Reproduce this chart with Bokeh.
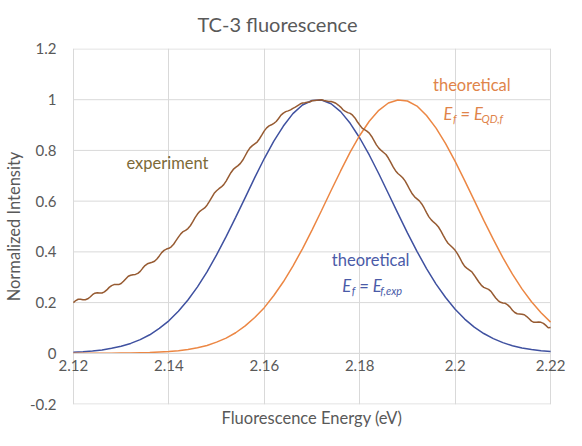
from bokeh.plotting import figure
from bokeh.models import Range1d, FixedTicker, LinearAxis, CustomJSTickFormatter, Label
from bokeh.embed import file_html
from bokeh.resources import INLINE

# ---------------- data ----------------
THEORY_START = 2.12
THEORY_STEP = 0.002
EXP_START = 2.12
EXP_STEP = 0.0005

# theoretical, E_f = E_f,exp  (blue)
theory_fexp = [0.004, 0.006, 0.009, 0.013, 0.020, 0.028, 0.039, 0.054, 0.073, 0.098,
               0.128, 0.166, 0.210, 0.262, 0.321, 0.388, 0.460, 0.536, 0.614, 0.693,
               0.768, 0.837, 0.896, 0.945, 0.979, 0.997, 0.999, 0.984, 0.953, 0.907,
               0.849, 0.782, 0.708, 0.630, 0.552, 0.475, 0.402, 0.334, 0.273, 0.220,
               0.174, 0.135, 0.103, 0.078, 0.058, 0.042, 0.030, 0.021, 0.015, 0.010,
               0.007]

# theoretical, E_f = E_QD,f  (orange)
theory_qd = [0.0001, 0.0001, 0.0002, 0.0003, 0.0004, 0.001, 0.001, 0.002, 0.003, 0.005,
             0.007, 0.010, 0.015, 0.022, 0.031, 0.044, 0.060, 0.081, 0.108, 0.141,
             0.180, 0.228, 0.282, 0.344, 0.412, 0.486, 0.563, 0.642, 0.719, 0.793,
             0.859, 0.915, 0.958, 0.987, 0.999, 0.995, 0.975, 0.938, 0.888, 0.827,
             0.757, 0.681, 0.603, 0.524, 0.449, 0.377, 0.312, 0.254, 0.203, 0.160,
             0.123]

# experiment (brown)
experiment = [
    0.200, 0.208, 0.213, 0.213, 0.211, 0.211, 0.215, 0.222, 0.231, 0.237,
    0.239, 0.238, 0.238, 0.242, 0.250, 0.260, 0.267, 0.271, 0.271, 0.271,
    0.275, 0.284, 0.294, 0.304, 0.308, 0.310, 0.311, 0.315, 0.323, 0.335,
    0.346, 0.353, 0.356, 0.359, 0.363, 0.372, 0.384, 0.397, 0.406, 0.411,
    0.414, 0.420, 0.430, 0.444, 0.458, 0.471, 0.480, 0.485, 0.492, 0.503,
    0.518, 0.535, 0.549, 0.560, 0.567, 0.573, 0.584, 0.599, 0.615, 0.631,
    0.641, 0.649, 0.656, 0.665, 0.679, 0.696, 0.712, 0.725, 0.733, 0.740,
    0.749, 0.762, 0.779, 0.796, 0.810, 0.819, 0.826, 0.833, 0.846, 0.861,
    0.877, 0.889, 0.897, 0.901, 0.907, 0.914, 0.926, 0.939, 0.947, 0.953,
    0.956, 0.960, 0.966, 0.971, 0.977, 0.983, 0.987, 0.988, 0.990, 0.991,
    0.996, 0.997, 0.998, 0.999, 1.000, 0.997, 0.995, 0.993, 0.993, 0.990,
    0.986, 0.979, 0.971, 0.960, 0.954, 0.949, 0.946, 0.939, 0.928, 0.913,
    0.900, 0.888, 0.882, 0.876, 0.868, 0.855, 0.839, 0.822, 0.809, 0.800,
    0.792, 0.784, 0.770, 0.753, 0.735, 0.720, 0.709, 0.701, 0.692, 0.680,
    0.663, 0.645, 0.629, 0.617, 0.609, 0.601, 0.589, 0.573, 0.555, 0.538,
    0.526, 0.517, 0.509, 0.498, 0.483, 0.465, 0.448, 0.434, 0.425, 0.416,
    0.406, 0.392, 0.375, 0.357, 0.343, 0.335, 0.328, 0.321, 0.308, 0.294,
    0.280, 0.268, 0.260, 0.256, 0.252, 0.244, 0.231, 0.218, 0.208, 0.201,
    0.198, 0.197, 0.191, 0.182, 0.170, 0.161, 0.156, 0.155, 0.154, 0.152,
    0.145, 0.136, 0.127, 0.122, 0.122, 0.123, 0.122, 0.118, 0.110, 0.101,
    0.102]

x_ticks = [2.12, 2.14, 2.16, 2.18, 2.20, 2.22]
y_ticks = [-0.2, 0.0, 0.2, 0.4, 0.6, 0.8, 1.0, 1.2]

energy_theory = [round(THEORY_START + THEORY_STEP * i, 4) for i in range(len(theory_fexp))]
energy_exp = [round(EXP_START + EXP_STEP * i, 4) for i in range(len(experiment))]

# ---------------- styling ----------------
FONT = "Lato"
GREY_TXT = "#595959"
GRID = "#D9D9D9"
C_BLUE = "#3F51A0"
C_ORANGE = "#EC8744"
C_BROWN = "#975B32"
C_EXP_TXT = "#7D6A38"
C_ORANGE_TXT = "#E0844A"
C_BLUE_TXT = "#4A5BA8"

# frame a little wider than the data area so the end tick labels are not cut
p = figure(width=566, height=430,
           x_range=Range1d(2.1166667, 2.2233333), y_range=Range1d(-0.2019, 1.2019),
           output_backend="svg", toolbar_location=None,
           min_border_left=54, min_border_right=0,
           min_border_top=46, min_border_bottom=23)
p.background_fill_color = "white"
p.border_fill_color = "white"
p.outline_line_color = None

p.title.text = "TC-3 fluorescence"
p.title.align = "right"
p.title.offset = 209
p.title.vertical_align = "top"
p.title.standoff = 22
p.title.text_font = FONT
p.title.text_font_size = "20px"
p.title.text_font_style = "normal"
p.title.text_color = GREY_TXT

# grid: vertical lines from the grid, horizontal lines limited to the data area
p.xgrid.ticker = FixedTicker(ticks=x_ticks)
p.xgrid.grid_line_color = GRID
p.xgrid.grid_line_width = 1
p.ygrid.visible = False
p.segment(x0=x_ticks[0], x1=x_ticks[-1], y0=y_ticks, y1=y_ticks,
          line_color=GRID, line_width=1)

# x axis crossing at y = 0
xa = p.xaxis[0]
xa.fixed_location = 0
xa.bounds = (x_ticks[0], x_ticks[-1])
xa.ticker = FixedTicker(ticks=x_ticks)
xa.formatter = CustomJSTickFormatter(code="return String(parseFloat(tick.toFixed(2)));")
xa.axis_line_color = GRID
xa.major_tick_line_color = None
xa.minor_tick_line_color = None
xa.major_tick_out = 0
xa.major_tick_in = 0
xa.major_label_standoff = 7
xa.major_label_text_font = FONT
xa.major_label_text_font_size = "15px"
xa.major_label_text_color = GREY_TXT

# x axis title on its own axis at the bottom
xt = LinearAxis(ticker=FixedTicker(ticks=[]), axis_label="Fluorescence Energy (eV)")
xt.axis_line_color = None
xt.major_tick_line_color = None
xt.minor_tick_line_color = None
xt.major_tick_out = 0
xt.major_tick_in = 0
xt.major_label_standoff = 0
xt.axis_label_standoff = 3
xt.axis_label_text_font = FONT
xt.axis_label_text_font_size = "16.5px"
xt.axis_label_text_font_style = "normal"
xt.axis_label_text_color = GREY_TXT
p.add_layout(xt, "below")

# y axis
ya = p.yaxis[0]
ya.ticker = FixedTicker(ticks=y_ticks)
ya.formatter = CustomJSTickFormatter(code="return String(parseFloat(tick.toFixed(1)));")
ya.axis_line_color = None
ya.major_tick_line_color = None
ya.minor_tick_line_color = None
ya.major_tick_out = 0
ya.major_tick_in = 0
ya.major_label_standoff = 1
ya.major_label_text_font = FONT
ya.major_label_text_font_size = "15px"
ya.major_label_text_color = GREY_TXT
ya.axis_label = "Normalized Intensity"
ya.axis_label_standoff = 3
ya.axis_label_text_font = FONT
ya.axis_label_text_font_size = "16.5px"
ya.axis_label_text_font_style = "normal"
ya.axis_label_text_color = GREY_TXT

# curves
p.line(energy_theory, theory_fexp, line_color=C_BLUE, line_width=1.5)
p.line(energy_theory, theory_qd, line_color=C_ORANGE, line_width=1.5)
p.line(energy_exp, experiment, line_color=C_BROWN, line_width=1.5)

# annotations
def lab(x, y, t, color, size="16.5px", style="normal", xo=0, yo=0, align="left", base="middle"):
    p.add_layout(Label(x=x, y=y, text=t, text_color=color, text_font=FONT,
                       text_font_size=size, text_font_style=style, x_offset=xo,
                       y_offset=yo, text_align=align, text_baseline=base))

lab(2.1397, 0.751, "experiment", C_EXP_TXT, align="center")
lab(2.2035, 1.058, "theoretical", C_ORANGE_TXT, align="center")
lab(2.1823, 0.369, "theoretical", C_BLUE_TXT, align="center")

EQ = "\u00a0=\u00a0E"

# E_f = E_QD,f
x0o, y0o = 2.19755, 0.942
lab(x0o, y0o, "E", C_ORANGE_TXT, style="italic", base="alphabetic")
lab(x0o, y0o, "f", C_ORANGE_TXT, size="11px", style="italic", xo=9.5, yo=-4, base="alphabetic")
lab(x0o, y0o, EQ, C_ORANGE_TXT, style="italic", xo=13.2, base="alphabetic")
lab(x0o, y0o, "QD,f", C_ORANGE_TXT, size="11px", style="italic", xo=38.0, yo=-4, base="alphabetic")

# E_f = E_f,exp
x0b, y0b = 2.17633, 0.264
lab(x0b, y0b, "E", C_BLUE_TXT, style="italic", base="alphabetic")
lab(x0b, y0b, "f", C_BLUE_TXT, size="11px", style="italic", xo=9.5, yo=-4, base="alphabetic")
lab(x0b, y0b, EQ, C_BLUE_TXT, style="italic", xo=13.2, base="alphabetic")
lab(x0b, y0b, "f,exp", C_BLUE_TXT, size="11px", style="italic", xo=38.0, yo=-4, base="alphabetic")

open("out.html", "w").write(file_html(p, INLINE))
